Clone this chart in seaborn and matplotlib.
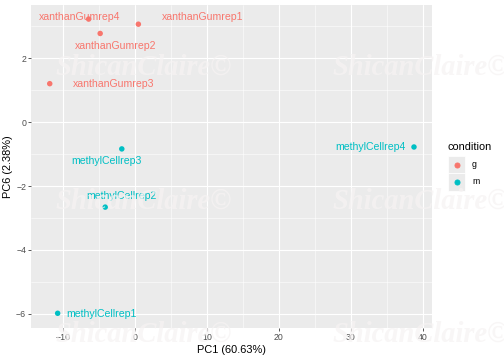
import matplotlib
matplotlib.use("Agg")
import matplotlib.pyplot as plt
import seaborn as sns
import pandas as pd
from matplotlib.patches import Rectangle
from matplotlib.lines import Line2D

samples = ["xanthanGumrep1", "xanthanGumrep2", "xanthanGumrep3", "xanthanGumrep4",
           "methylCellrep1", "methylCellrep2", "methylCellrep3", "methylCellrep4"]
condition = ["g", "g", "g", "g", "m", "m", "m", "m"]
pc1 = [0.5, -4.8, -11.8, -6.4, -10.7, -4.1, -1.8, 38.75]
pc6 = [3.06, 2.77, 1.2, 3.22, -5.98, -2.66, -0.84, -0.78]
# label offsets (points) as placed by the repel layout
label_dx = [64, 15, 64, -9, 44, 16, -15, -44]
label_dy = [7, -13, 0, 2, -1, 11, -12, 0]
levels = ["g", "m"]

palette = {"g": "#F8766D", "m": "#00BFC4"}

df = pd.DataFrame({"sample": samples, "condition": condition, "PC1": pc1, "PC6": pc6})

sns.set_style("darkgrid", {"axes.facecolor": "#EBEBEB", "grid.color": "white"})
plt.rcParams["font.family"] = ["Liberation Sans", "DejaVu Sans"]

W, H = 504, 360
fig = plt.figure(figsize=(7, 5), dpi=72)
ax = fig.add_axes([31/W, 32/H, (432-31)/W, (355-32)/H])

sns.scatterplot(data=df, x="PC1", y="PC6", hue="condition", palette=palette,
                s=30, edgecolor="none", ax=ax, legend=False, zorder=3)

for s, c, x, y, dx, dy in zip(samples, condition, pc1, pc6, label_dx, label_dy):
    ax.annotate(s, (x, y), xytext=(dx, dy), textcoords="offset points",
                ha="center", va="center", color=palette[c], fontsize=10.5, zorder=4)

ax.set_xlim(-14.4, 41.25)
ax.set_ylim(-6.44, 3.66)
ax.set_xticks([-10, 0, 10, 20, 30, 40])
ax.set_yticks([-6, -4, -2, 0, 2])
ax.set_xticks([-5, 5, 15, 25, 35], minor=True)
ax.set_yticks([-5, -3, -1, 1, 3], minor=True)
ax.grid(which="major", color="white", linewidth=1.1)
ax.grid(which="minor", color="white", linewidth=0.5)
ax.set_axisbelow(True)
for sp in ax.spines.values():
    sp.set_visible(False)
ax.tick_params(axis="both", which="major", length=2.75, width=0.8, color="#333333",
               labelsize=8.8, labelcolor="#4D4D4D", pad=2, bottom=True, left=True)
ax.tick_params(axis="both", which="minor", length=0)
ax.set_xlabel("PC1 (60.63%)", fontsize=11, color="black", labelpad=3)
ax.set_ylabel("PC6 (2.38%)", fontsize=11, color="black", labelpad=3)

# legend (ggplot style keys)
fig.text(448/W, 1 - 147/H, "condition", ha="left", va="center", fontsize=11, color="black")
for i, k in enumerate(levels):
    top = 156 + i * 17.3
    fig.add_artist(Rectangle((448/W, 1 - (top + 17.3)/H), 17.3/W, 17.3/H,
                             transform=fig.transFigure, facecolor="#EBEBEB",
                             edgecolor="white", linewidth=0.8))
    fig.add_artist(Line2D([456.6/W], [1 - (top + 8.65)/H], marker="o", linestyle="none",
                          color=palette[k], markersize=5, transform=fig.transFigure))
    fig.text(472/W, 1 - (top + 8.65)/H, k, ha="left", va="center", fontsize=8.8, color="black")

for (wx, wy) in [(144, 67), (421, 67), (144, 201), (421, 201), (144, 334), (421, 334)]:
    fig.text(wx/W, 1 - wy/H, "ShicanClaire©", ha="center", va="center",
             fontsize=28.5, fontstyle="italic", fontweight="bold", family="Liberation Serif",
             color="#F6F3F3", alpha=0.75, zorder=10)

fig.savefig("out.png", dpi=72)
